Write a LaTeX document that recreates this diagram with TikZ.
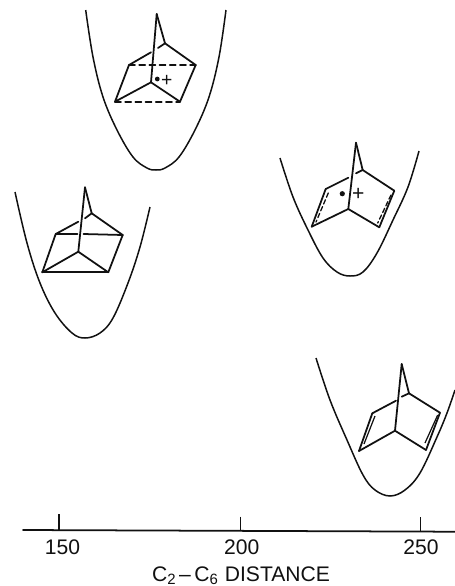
\documentclass[tikz,border=0pt]{standalone}
\usepackage{xcolor}
\usepackage{fontspec}
\setmainfont{Liberation Sans}
\usepackage{tikz}
\usetikzlibrary{calc,positioning}
\definecolor{murekkep}{HTML}{111111}
\newcommand{\altyazi}[1]{\raisebox{-1.5pt}{\fontsize{8.5}{8.5}\selectfont #1}}

\begin{document}
\begin{tikzpicture}[x=0.02cm, y=-0.02cm, every node/.style={font=\fontsize{12}{13}\selectfont,text=murekkep},
  kuyu/.style={draw=murekkep,line width=0.85pt},
  bag/.style={draw=murekkep,line width=1pt,line cap=round},
  kesik/.style={bag,dash pattern=on 3.4pt off 2.4pt},
  ince/.style={draw=murekkep,line width=0.7pt}]
\useasboundingbox (0,0) rectangle (455,586);
% wells
\draw[kuyu] plot[smooth,tension=0.6] coordinates {(85.7,10) (93,57) (103,97) (117,130) (133,157) (147,168) (156,170) (165,168) (179,157) (195,130) (209,97) (219,57) (226,10)};
\draw[kuyu] plot[smooth,tension=0.6] coordinates {(15,192) (27,243) (40,283) (55,313) (72,333) (85,338) (100,333) (113,318) (128,283) (140,247) (150,207)};
\draw[kuyu] plot[smooth,tension=0.6] coordinates {(280,158) (293,197) (308,230) (323,258) (337,272) (350,276) (363,272) (377,253) (393,220) (408,187) (419,151)};
\draw[kuyu] plot[smooth,tension=0.6] coordinates {(316,358) (330,400) (347,440) (363,475) (375,490) (390,496) (405,490) (420,473) (437,437) (447,413) (455,390)};
% top molecule
\coordinate (a1) at (156.7,14);
\coordinate (a2) at (165,43.3);
\coordinate (a3) at (158,48);
\coordinate (a4) at (151,52.3);
\coordinate (a5) at (129,65);
\coordinate (a6) at (195.7,65);
\coordinate (a7) at (151,82.3);
\coordinate (a8) at (115,101.7);
\coordinate (a9) at (180,101.7);
\foreach \x/\y in {a1/a2, a1/a7, a2/a3, a4/a5, a2/a6, a5/a8, a6/a9, a7/a8, a7/a9} \draw[bag] (\x)--(\y);
\foreach \x/\y in {a5/a6, a8/a9} \draw[kesik] (\x)--(\y);
\fill[murekkep] (157.3,79) circle (2.4);
\node (artiA) at (166.7,80.7) {\fontsize{11}{11}\selectfont +};
% left molecule
\coordinate (b1) at (85,187.3);
\coordinate (b2) at (91.7,213.3);
\coordinate (b3) at (85,218.3);
\coordinate (b4) at (78.3,221.7);
\coordinate (b5) at (55.7,234);
\coordinate (b6) at (122.7,235);
\coordinate (b7) at (78.3,251.7);
\coordinate (b8) at (42.3,272.3);
\coordinate (b9) at (108.3,272.3);
\coordinate (b10) at (77.5,234);
\coordinate (b11) at (83.5,234);
\foreach \x/\y in {b1/b2, b1/b7, b2/b3, b4/b5, b2/b6, b5/b8, b6/b9, b7/b8, b7/b9, b8/b9, b5/b10, b11/b6} \draw[bag] (\x)--(\y);
% right molecule
\coordinate (c1) at (356,142.7);
\coordinate (c2) at (362.7,170);
\coordinate (c3) at (356,173.3);
\coordinate (c4) at (348.3,177.7);
\coordinate (c5) at (325.7,189);
\coordinate (c6) at (394.3,190.7);
\coordinate (c7) at (348.3,209);
\coordinate (c8) at (311.7,226.7);
\coordinate (c9) at (379.3,227.3);
\coordinate (c10) at (328.3,193);
\coordinate (c11) at (316,222);
\coordinate (c12) at (391,195);
\coordinate (c13) at (377.7,223);
\foreach \x/\y in {c1/c2, c1/c7, c2/c3, c4/c5, c2/c6, c5/c8, c6/c9, c7/c8, c7/c9} \draw[bag] (\x)--(\y);
\foreach \x/\y in {c10/c11, c12/c13} \draw[kesik,dash pattern=on 2.6pt off 1.6pt,line width=0.75pt] (\x)--(\y);
\fill[murekkep] (342.3,193.7) circle (2.6);
\node (artiC) at (358.3,194.3) {\fontsize{12}{12}\selectfont +};
% bottom molecule
\coordinate (d1) at (401.7,364);
\coordinate (d2) at (409,393.3);
\coordinate (d3) at (401.7,396.7);
\coordinate (d4) at (396,400.7);
\coordinate (d5) at (372.3,413.3);
\coordinate (d6) at (440,412.7);
\coordinate (d7) at (395,430.7);
\coordinate (d8) at (359,451);
\coordinate (d9) at (426,450);
\coordinate (d10) at (375,416);
\coordinate (d11) at (364,444);
\coordinate (d12) at (437.7,415);
\coordinate (d13) at (425,443);
\foreach \x/\y in {d1/d2, d1/d7, d2/d3, d4/d5, d2/d6, d5/d8, d6/d9, d7/d8, d7/d9} \draw[bag] (\x)--(\y);
\foreach \x/\y in {d10/d11, d12/d13} \draw[ince] (\x)--(\y);
% axis
\coordinate (sol) at (23,530);
\coordinate (sag) at (455,531.7);
\draw[bag] (sol)--(sag);
\coordinate (t1) at (59,514);
\coordinate (u1) at (59,530.2);
\coordinate (t2) at (240.7,516.7);
\coordinate (u2) at (240.7,530.9);
\coordinate (t3) at (420.7,517);
\coordinate (u3) at (420.7,531.6);
\foreach \x/\y in {t1/u1, t2/u2, t3/u3} \draw[ince] (\x)--(\y);
\node[anchor=base] (yuzelli) at (62.5,554) {150};
\node[anchor=base] (ikiyuz) at (241.7,554) {200};
\node[anchor=base] (ikiyuzelli) at (421,554) {250};
\node[anchor=base,inner sep=0pt] (baslik) at (241,581.5) {C\altyazi{2}\,–\,C\altyazi{6}\,\,DISTANCE};
\end{tikzpicture}
\end{document}
